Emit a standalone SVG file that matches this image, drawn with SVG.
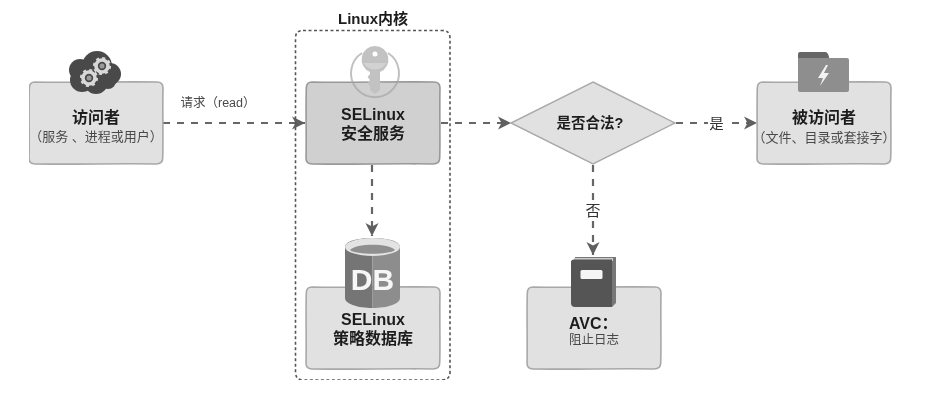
<svg xmlns="http://www.w3.org/2000/svg" width="929" height="404" viewBox="0 0 929 404">
<style>
text{font-family:"Liberation Sans","Noto Sans CJK SC",sans-serif;fill:#1f1f1f;text-anchor:middle}
.t{font-size:16px;font-weight:700}
.s{font-size:13px;fill:#4a4a4a}
.l{font-size:12.5px;fill:#4a4a4a}
.box{fill:#e1e1e1;stroke:#a8a8a8;stroke-width:1.6}
.box2{fill:#d0d0d0;stroke:#999;stroke-width:1.6}
.c{fill:none;stroke:#666;stroke-width:2.200;stroke-dasharray:7 7}
</style>
<defs>
<filter id="soft" x="0" y="0" width="100%" height="100%"><feGaussianBlur stdDeviation="0.45"/></filter>
<marker id="a" markerUnits="userSpaceOnUse" markerWidth="14" markerHeight="15" refX="13" refY="7.500" orient="auto"><path d="M0 1 L13 7.500 L0 14 L3.500 7.500Z" fill="#5f5f5f"/></marker>
<path id="w" d="M6 0C40 0.800 90 -0.600 128 0Q134 0 134 6C133.400 30 134.400 55 133.700 76Q133.700 82 127 82C95 81.300 45 82.600 6 82Q0 82 0 76C0.600 55 -0.400 30 0.300 6Q0.300 0 6 0Z"/>
<g id="gear"><circle r="6" fill="none" stroke="#d8d8d8" stroke-width="3.600"/><circle r="8" fill="none" stroke="#d8d8d8" stroke-width="2.200" stroke-dasharray="3 3.280"/><circle r="2.500" fill="#999"/></g>
</defs>
<g filter="url(#soft)">
<g id="connectors">
<path class="c" d="M163 123H305" marker-end="url(#a)"/>
<path class="c" d="M441 123H511" marker-end="url(#a)"/>
<path class="c" d="M676 123H757" marker-end="url(#a)"/>
<path class="c" d="M372 165V236" marker-end="url(#a)"/>
<path class="c" d="M593 165V255" marker-end="url(#a)"/>
</g>
<g id="label-read"><text class="l" x="218" y="107">请求（read）</text></g>
<g id="label-yes"><rect x="708" y="114" width="17" height="18" fill="#fff"/><text x="716.500" y="129" style="font-size:14.500px;fill:#333">是</text></g>
<g id="label-no"><rect x="584" y="201" width="18" height="19" fill="#fff"/><text x="593" y="216" style="font-size:15px;fill:#333">否</text></g>
<g id="kernel">
<path d="M303 30.500H442Q450 30.500 450 38V372Q450 380 442 380H303Q295.500 380 295.500 372V38Q295.500 30.500 303 30.500Z" fill="none" stroke="#555" stroke-width="1.600" stroke-dasharray="3 2.500"/>
<text x="373" y="24" style="font-size:15px;font-weight:700">Linux内核</text>
</g>
<g id="visitor">
<use href="#w" class="box" x="29" y="82"/>
<g fill="#4a4a4a"><circle cx="80" cy="70" r="11"/><circle cx="97" cy="66" r="15"/><circle cx="110" cy="74" r="11"/><circle cx="82" cy="80" r="12"/><circle cx="96" cy="82" r="12"/><circle cx="108" cy="81" r="8"/></g>
<use href="#gear" x="89" y="78"/><use href="#gear" x="102" y="66"/>
<text class="t" x="96" y="123">访问者</text>
<text class="s" x="96" y="141">（服务 、进程或用户）</text>
</g>
<g id="selinux">
<use href="#w" class="box2" x="306" y="82"/>
<path d="M362 53A24 24 0 1 0 388 53" fill="none" stroke="#a5a5a5" stroke-width="2" opacity="0.700"/>
<path d="M375 46a13.500 13.500 0 0 1 5 26V90L375 94 370 90V86L367.500 83 370 80 367.500 77 370 74V72A13.500 13.500 0 0 1 375 46Z" fill="#c2c2c2"/>
<path d="M363.500 63H386.500A13.500 13.500 0 0 1 363.500 63Z" fill="#d2d2d2"/>
<circle cx="375" cy="54" r="2.500" fill="#fff"/>
<text class="t" x="373" y="120">SELinux</text>
<text class="t" x="373" y="139">安全服务</text>
</g>
<g id="policy-db">
<use href="#w" class="box" x="306" y="287"/>
<path d="M345 247V298C345 304 358 308 372.500 308V238C358 238 345 241 345 247Z" fill="#757575"/>
<path d="M400 247V298C400 304 387 308 372.500 308V238C387 238 400 241 400 247Z" fill="#8d8d8d"/>
<ellipse cx="372.500" cy="247" rx="27.500" ry="9" fill="#e3e3e3"/>
<path d="M350 250C356 243 389 243 395 250C389 255 356 255 350 250Z" fill="#8f8f8f"/>
<text x="372.500" y="290" style="font-size:30px;font-weight:700;fill:#f7f7f7">DB</text>
<text class="t" x="373" y="325">SELinux</text>
<text class="t" x="373" y="344">策略数据库</text>
</g>
<g id="decision">
<path d="M593 82L675 123L593 164L511 123Z" fill="#e1e1e1" stroke="#ababab" stroke-width="1.500"/>
<text x="590" y="128" style="font-size:14.500px;font-weight:700">是否合法?</text>
</g>
<g id="avc">
<use href="#w" class="box" x="527" y="287"/>
<path d="M575 257H616V303L612 307V261H575Z" fill="#777"/>
<path d="M574 258H613V261H574Z" fill="#ccc"/>
<path d="M574 259.500H612V307H575Q571 307 571 303V262Q571 259.500 574 259.500Z" fill="#555"/>
<rect x="580.500" y="270" width="22" height="9" rx="1.500" fill="#f5f5f5"/>
<text x="569" y="329" style="font-size:16px;font-weight:700;text-anchor:start">AVC：</text>
<text class="s" x="594" y="344" style="font-size:12.500px">阻止日志</text>
</g>
<g id="target">
<use href="#w" class="box" x="757" y="82"/>
<path d="M798 68V54Q798 52 800 52H825Q828 52 829 57V68Z" fill="#666"/>
<path d="M798 58H847Q849 58 849 60V90Q849 92 847 92H800Q798 92 798 90Z" fill="#8e8e8e"/>
<path d="M826 65L818 78H823L820 86L829 73H824L828 65Z" fill="#f2f2f2"/>
<text class="t" x="824" y="123">被访问者</text>
<text class="s" x="824" y="142">（文件、目录或套接字）</text>
</g>
</g>
</svg>
